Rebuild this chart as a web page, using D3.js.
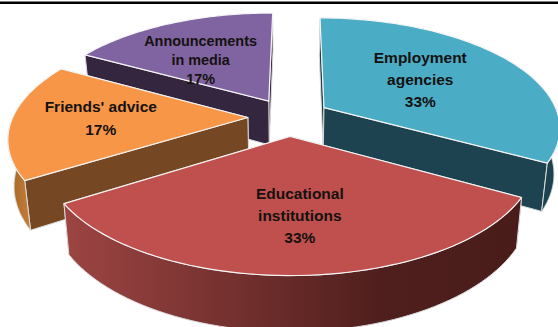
<!DOCTYPE html>
<html>
<head>
<meta charset="utf-8">
<script src="https://cdnjs.cloudflare.com/ajax/libs/d3/7.8.5/d3.min.js"></script>
<style>
  html, body { margin: 0; padding: 0; background: #fff; }
  svg { display: block; }
  text { font-family: "Liberation Sans", Arial, sans-serif; font-weight: bold; fill: #15110f; text-anchor: middle; }
</style>
</head>
<body>
<svg id="chart" width="558" height="327"></svg>
<script>
// Sources of information, clockwise from the top of the pie
const categories = ["Employment agencies", "Educational institutions", "Friends' advice", "Announcements in media"];
const shares = [33, 33, 17, 17];
const labelLines = [["Employment", "agencies"], ["Educational", "institutions"], ["Friends' advice"], ["Announcements", "in media"]];
const topColors = ["#4bacc6", "#c0504d", "#f79646", "#8064a2"];
const wallColors = ["#1e4350", "#4a1d1b", "#754722", "#35263f"];
const rimColors = ["#1e4350", "url(#frontShade)", "url(#leftShade)", "#35263f"];
const paintOrder = [3, 0, 2, 1];

const width = 558, height = 327;
const originX = 289, originY = 117;   // pie axis on screen
const radiusX = 235, radiusY = 108;   // disk size before perspective
const perspective = 0.17, thickness = 45, explode = 0.175, dropConverge = 0.022;
const startAngle = 0.3 * Math.PI / 180;

// Label placement along each slice's middle radius, with a small hand offset
const labelReach = [0.56, 0.52, 0.56, 0.62];
const labelNudge = [[-9, 1], [6, 14], [-15, -1], [-4, 9]];
const labelSizes = [15.5, 15.5, 15.5, 14.4];
const labelSpacing = [22, 22, 23, 19];

const svg = d3.select("#chart");

// Tilted disk with perspective: y grows toward the viewer
const scaleAt = y => 1 / (1 - perspective * y);
function project(x, y, drop) {
  const s = scaleAt(y);
  const px = radiusX * x * s, py = radiusY * y * s;
  return drop
    ? [originX + px * (1 - dropConverge), originY + py + thickness * s]
    : [originX + px, originY + py];
}

const pie = d3.pie().sort(null).value(d => d).startAngle(startAngle).endAngle(Math.PI * 2 + startAngle);
const slices = pie(shares);
const outline = d3.line();

const defs = svg.append("defs");
const frontShade = defs.append("linearGradient").attr("id", "frontShade")
  .attr("gradientUnits", "userSpaceOnUse").attr("x1", 62).attr("x2", 517).attr("y1", 0).attr("y2", 0);
frontShade.append("stop").attr("offset", "0").attr("stop-color", "#9d4543");
frontShade.append("stop").attr("offset", "0.7").attr("stop-color", "#4f1f1d");
frontShade.append("stop").attr("offset", "1").attr("stop-color", "#491c1a");
const leftShade = defs.append("linearGradient").attr("id", "leftShade")
  .attr("gradientUnits", "userSpaceOnUse").attr("x1", 12).attr("x2", 32).attr("y1", 0).attr("y2", 0);
leftShade.append("stop").attr("offset", "0").attr("stop-color", "#a8682a");
leftShade.append("stop").attr("offset", "1").attr("stop-color", "#c98039");

// Black rule along the top of the frame
svg.append("rect").attr("x", 0).attr("y", 1.5).attr("width", width).attr("height", 2.5).attr("fill", "#000");

paintOrder.forEach(i => {
  const slice = slices[i];
  const mid = (slice.startAngle + slice.endAngle) / 2;
  const cx = Math.sin(mid) * explode, cy = -Math.cos(mid) * explode;
  const rim = a => [cx + Math.sin(a), cy - Math.cos(a)];
  const arcAngles = (a0, a1) => d3.range(0, 61).map(t => a0 + (a1 - a0) * t / 60);

  const g = svg.append("g").attr("class", "slice").attr("data-name", categories[i]);
  const wall = (points, fill) => {
    const top = points.map(p => project(p[0], p[1], false));
    const low = points.map(p => project(p[0], p[1], true)).reverse();
    g.append("path").attr("d", outline(top.concat(low)) + "Z")
      .attr("fill", fill).attr("stroke", "#dcdcdc").attr("stroke-width", 1).attr("stroke-linejoin", "round");
  };

  // Cut faces painted back to front, then the part of the rim that faces the viewer
  [rim(slice.startAngle), rim(slice.endAngle)]
    .sort((p, q) => p[1] - q[1])
    .forEach(p => wall([[cx, cy], p], wallColors[i]));
  const a0 = Math.max(slice.startAngle, Math.PI / 2);
  const a1 = Math.min(slice.endAngle, Math.PI * 1.5);
  if (a1 > a0) wall(arcAngles(a0, a1).map(rim), rimColors[i]);

  // Top face
  const face = [[cx, cy]].concat(arcAngles(slice.startAngle, slice.endAngle).map(rim))
    .map(p => project(p[0], p[1], false));
  g.append("path").attr("d", outline(face) + "Z")
    .attr("fill", topColors[i]).attr("stroke", "#f4f4f4").attr("stroke-width", 1.2).attr("stroke-linejoin", "round");
});

slices.forEach((slice, i) => {
  const mid = (slice.startAngle + slice.endAngle) / 2;
  const r = explode + labelReach[i];
  const [px, py] = project(Math.sin(mid) * r, -Math.cos(mid) * r, false);
  const x = px + labelNudge[i][0], y = py + labelNudge[i][1];
  const lines = labelLines[i].concat([shares[i] + "%"]);
  const gap = labelSpacing[i];
  const t = svg.append("text").attr("font-size", labelSizes[i]).attr("x", x).attr("y", y - (lines.length - 1) * gap / 2 + 5);
  lines.forEach((line, n) => t.append("tspan").attr("x", x).attr("dy", n ? gap : 0).text(line));
});
</script>
</body>
</html>
